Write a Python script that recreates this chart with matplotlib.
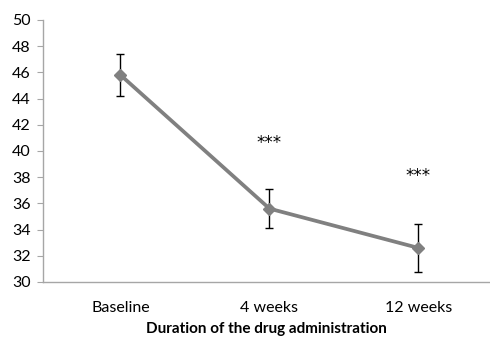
import matplotlib
matplotlib.use("Agg")
import matplotlib.pyplot as plt
import numpy as np

# data
groups = ['Baseline', '4 weeks', '12 weeks']
means = [45.8, 35.6, 32.6]
errs = [1.6, 1.5, 1.85]
stars = ['', '***', '***']
star_y = [None, 40.6, 38.1]

plt.rcParams["font.family"] = ["Lato", "DejaVu Sans"]

fig = plt.figure(figsize=(4.9, 3.37), dpi=100)
ax = fig.add_axes([43/490, 1 - 282/337, 447/490, 262/337])

x = np.arange(len(groups))
ax.errorbar(x, means, yerr=errs, fmt='none', ecolor='black', elinewidth=1.0,
            capsize=3, capthick=1.0, zorder=2)
ax.plot(x, means, color='#808080', linewidth=2.7, marker='D', markersize=6.5,
        markerfacecolor='#808080', markeredgecolor='#808080', zorder=3)

# significance marks
for xi, s, sy in zip(x, stars, star_y):
    if s:
        ax.text(xi, sy, s, ha='center', va='center', fontsize=12,
                color='black', family='DejaVu Sans')

ax.set_xlim(-0.52, 2.48)
ax.set_ylim(30, 50)
ax.set_yticks(np.arange(30, 51, 2))
ax.set_xticks(x)
ax.set_xticklabels(groups)

for side in ['top', 'right']:
    ax.spines[side].set_visible(False)
for side in ['left', 'bottom']:
    ax.spines[side].set_color('#a6a6a6')
    ax.spines[side].set_linewidth(1.0)

ax.tick_params(axis='y', length=4, color='#a6a6a6', labelsize=11.5, pad=5)
ax.tick_params(axis='x', length=0, labelsize=11.5, pad=14)

ax.set_xlabel('Duration of the drug administration', fontsize=11,
              fontweight='bold', labelpad=5)

fig.savefig('out.png', dpi=100)
